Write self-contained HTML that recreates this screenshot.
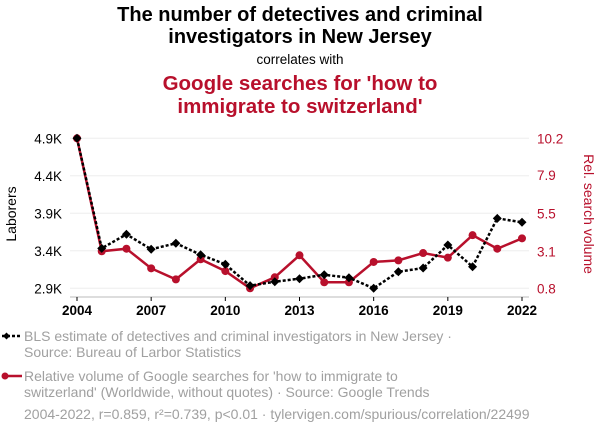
<!DOCTYPE html>
<html><head><meta charset="utf-8"><style>
body{margin:0;background:#fff;}
svg{display:block;font-family:"Liberation Sans",Arial,sans-serif;}
</style></head><body>
<svg id="chart" width="600" height="436" viewBox="0 0 600 436">
<g text-anchor="middle" font-weight="bold" font-size="20" fill="#000">
<text x="300" y="21">The number of detectives and criminal</text>
<text x="300" y="43">investigators in New Jersey</text>
</g>
<text x="300" y="64" text-anchor="middle" font-size="13.5">correlates with</text>
<g text-anchor="middle" font-weight="bold" font-size="20.5" fill="#b8102c">
<text x="300" y="90">Google searches for 'how to</text>
<text x="300" y="113">immigrate to switzerland'</text>
</g>
<g id="grid"></g>
<g id="axes"></g>
<text transform="translate(16,214) rotate(-90)" text-anchor="middle" font-size="14">Laborers</text>
<text transform="translate(584,214) rotate(90)" text-anchor="middle" font-size="14" fill="#b8102c">Rel. search volume</text>
<g id="series"></g>
<g font-size="14" fill="#a0a0a0">
<g>
<line x1="2" y1="336" x2="22" y2="336" stroke="#000" stroke-width="2.5" stroke-dasharray="3,2"/>
<path d="M3,336 l3.5,-3.5 3.5,3.5 -3.5,3.5z" fill="#000"/>
<text x="24" y="341">BLS estimate of detectives and criminal investigators in New Jersey ·</text>
<text x="24" y="357">Source: Bureau of Larbor Statistics</text>
</g>
<g>
<line x1="2" y1="376" x2="22" y2="376" stroke="#b8102c" stroke-width="2.5"/>
<circle cx="5" cy="376" r="3.5" fill="#b8102c"/>
<text x="24" y="381">Relative volume of Google searches for 'how to immigrate to</text>
<text x="24" y="397">switzerland' (Worldwide, without quotes) · Source: Google Trends</text>
</g>
<text x="24" y="419">2004-2022, r=0.859, r²=0.739, p&lt;0.01 · tylervigen.com/spurious/correlation/22499</text>
</g>
</svg>
<script>
const years=[2004,2005,2006,2007,2008,2009,2010,2011,2012,2013,2014,2015,2016,2017,2018,2019,2020,2021,2022];
const detectives=[4900,3433,3620,3420,3500,3348,3220,2935,2988,3028,3081,3041,2900,3121,3170,3477,3188,3833,3780];
const searches=[10.2,3.12,3.28,2.05,1.36,2.62,1.88,0.8,1.49,2.87,1.18,1.18,2.45,2.55,3.01,2.72,4.13,3.28,3.93];
const leftTicks=[2900,3400,3900,4400,4900];
const leftLabels=["2.9K","3.4K","3.9K","4.4K","4.9K"];
const rightTicks=[0.8,3.1,5.5,7.9,10.2];
const xTicks=[2004,2007,2010,2013,2016,2019,2022];

const NS="http://www.w3.org/2000/svg";
const X0=77,X1=522,YT=138.3,YB=288.3;
const xs=y=>X0+(y-2004)/(2022-2004)*(X1-X0);
const yl=v=>YB-(v-2900)/(4900-2900)*(YB-YT);
const yr=v=>YB-(v-0.8)/(10.2-0.8)*(YB-YT);
function mk(tag,attrs,parent){const e=document.createElementNS(NS,tag);for(const k in attrs)e.setAttribute(k,attrs[k]);parent.appendChild(e);return e;}
const grid=document.getElementById('grid'),axes=document.getElementById('axes'),ser=document.getElementById('series');
leftTicks.forEach((t,i)=>{
 const y=yl(t);
 const g=mk('line',{x1:X0-7,x2:X1+7,y1:y,y2:y,stroke:'#eeeeee','stroke-width':1},grid);
 
 
 const tx=mk('text',{x:62,y:y+5,'text-anchor':'end','font-size':13.5},axes);
 tx.textContent=leftLabels[i];
 
 
});
rightTicks.forEach(t=>{
 const y=yr(t);
 const tx=mk('text',{x:537,y:y+5,'font-size':13.5,fill:'#b8102c'},axes);
 tx.textContent=t.toFixed(1);
 
 
});
const ax=mk('line',{x1:X0-7,x2:X1+7,y1:297,y2:297,stroke:'#bbb'},axes);


xTicks.forEach(t=>{
 const x=xs(t);
 const tk=mk('line',{x1:x,x2:x,y1:297,y2:301,stroke:'#000'},axes);
 
 
 const tx=mk('text',{x:x,y:315,'text-anchor':'middle','font-size':13.5,'font-weight':'bold'},axes);
 tx.textContent=t;
 
 
});
let d='';searches.forEach((v,i)=>{if(v==null)return;d+=(d?'L':'M')+xs(years[i])+','+yr(v);});
const rl=mk('path',{d:d,fill:'none',stroke:'#b8102c','stroke-width':2.5},ser);


searches.forEach((v,i)=>{if(v==null)return;
 const c=mk('circle',{cx:xs(years[i]),cy:yr(v),r:4,fill:'#b8102c'},ser);
 
 
});
d='';detectives.forEach((v,i)=>{d+=(i?'L':'M')+xs(years[i])+','+yl(v);});
const bl=mk('path',{d:d,fill:'none',stroke:'#000','stroke-width':2.5,'stroke-dasharray':'3,2'},ser);


detectives.forEach((v,i)=>{
 const x=xs(years[i]),y=yl(v);
 const p=mk('path',{d:`M${x-4.5},${y} L${x},${y-4.5} L${x+4.5},${y} L${x},${y+4.5}Z`,fill:'#000'},ser);
 
 
});
</script>
</body></html>
